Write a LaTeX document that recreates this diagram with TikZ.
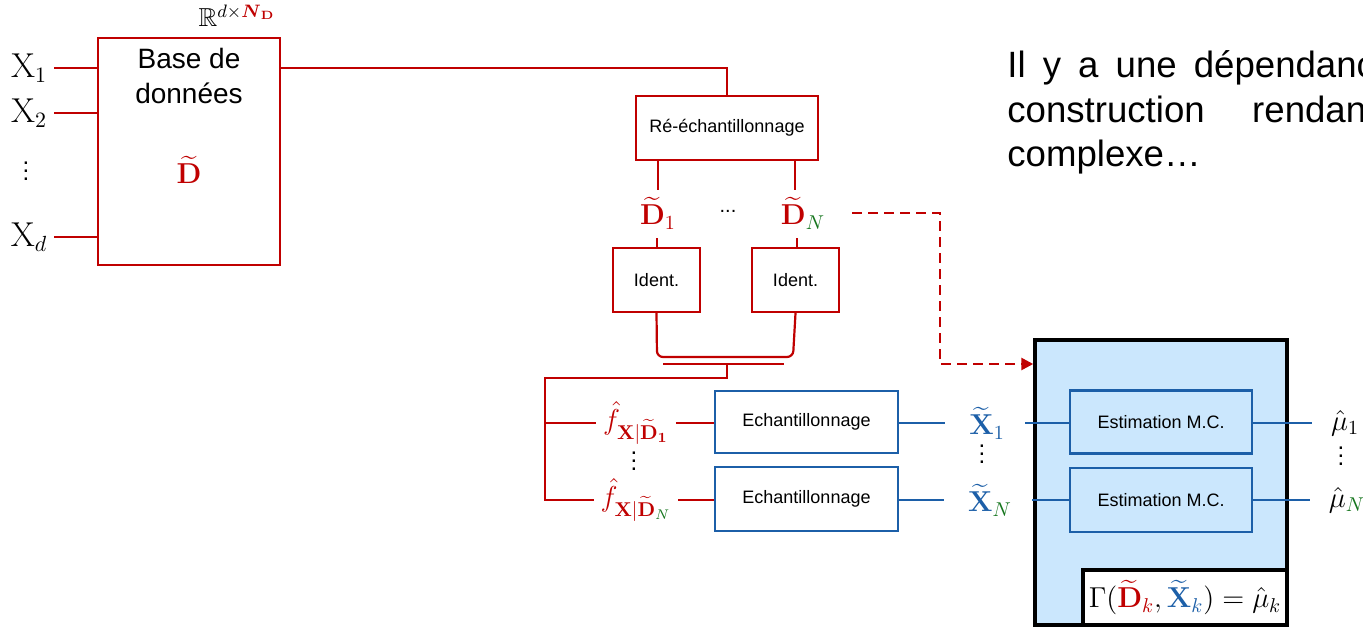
\documentclass[tikz,border=0pt]{standalone}
\usepackage{amsmath,amssymb}
\usepackage[no-math]{fontspec}
\setmainfont{Liberation Sans}
\usetikzlibrary{arrows.meta}
\definecolor{dred}{HTML}{C00000}
\definecolor{dblue}{HTML}{1C5FA8}
\definecolor{dgreen}{HTML}{16761E}
\definecolor{lblue}{HTML}{CBE7FD}

\begin{document}
\begin{tikzpicture}[x=0.5pt,y=-0.5pt,
  redbox/.style={draw=dred, line width=1.1pt, fill=white, inner sep=0pt},
  bluebox/.style={draw=dblue, line width=1.1pt, inner sep=0pt},
  redline/.style={draw=dred, line width=1.1pt},
  blueline/.style={draw=dblue, line width=1.1pt},
  small/.style={font=\fontsize{9}{11}\selectfont},
  mlab/.style={font=\fontsize{14}{17}\selectfont},
  inlab/.style={font=\fontsize{16}{19}\selectfont},
  vdot/.style={anchor=base, inner sep=0pt, font=\fontsize{12}{14}\selectfont},
  bigtext/.style={anchor=base west, inner sep=0pt, font=\fontsize{18.3}{22}\selectfont}]

\fill[white] (0,0) rectangle (1363,627);
\useasboundingbox (0,0) rectangle (1363,627);
\clip (0,0) rectangle (1363,627);

% ---- database block and its inputs
\node[redbox, minimum width=91pt, minimum height=113.5pt] (base) at (189,151.5) {};
\node[font=\fontsize{14}{17.5}\selectfont, align=center] (basetxt) at (189,76) {Base de\\données};
\node[mlab, text=dred] (dtil) at (189,170) {$\widetilde{\mathbf{D}}$};
\node[font=\fontsize{13}{15}\selectfont] (rdim) at (237,16) {$\mathbb{R}^{d\times {\color{dred}\boldsymbol{N}_{\mathbf{D}}}}$};

\node[inlab] (x1) at (29,68) {$\mathrm{X}_1$};
\node[inlab] (x2) at (29,113) {$\mathrm{X}_2$};
\node[vdot] (xdots) at (26,180) {$\vdots$};
\node[inlab] (xd) at (29,237) {$\mathrm{X}_d$};
\foreach \n in {x1,x2,xd}
  \draw[redline] (\n.east) -- (\n.east -| base.west);

% ---- resampling
\node[redbox, minimum width=91pt, minimum height=32pt, small] (resamp) at (727,128) {Ré-échantillonnage};
\draw[redline] (base.east |- x1) -- (resamp.north |- x1) -- (resamp.north);

\node[mlab, text=dred] (d1) at (658,213) {$\widetilde{\mathbf{D}}_1$};
\node[mlab, text=dred] (dN) at (803,213) {$\widetilde{\mathbf{D}}_{\color{dgreen}N}$};
\node[anchor=base, font=\fontsize{10}{12}\selectfont] (ddots) at (728,212) {...};

\node[redbox, minimum width=43.5pt, minimum height=32pt, small] (id1) at (656.5,280) {Ident.};
\node[redbox, minimum width=43.5pt, minimum height=32pt, small] (idN) at (795.5,280) {Ident.};

\coordinate (r1a) at (658,190);
\coordinate (rNa) at (795,190);
\coordinate (r1b) at (657,238);
\coordinate (rNb) at (797,238);
\draw[redline] (resamp.south -| r1a) -- (r1a);
\draw[redline] (resamp.south -| rNa) -- (rNa);
\draw[redline] (r1b) -- (r1b |- id1.north);
\draw[redline] (rNb) -- (rNb |- idN.north);

% merge of the identified models
\coordinate (uL) at (657,357);
\coordinate (uR) at (793,357);
\draw[redline, rounded corners=3pt] (id1.south) -- (uL) -- (uR) -- (idN.south);
\coordinate (barL) at (663,364);
\coordinate (barR) at (784,364);
\coordinate (barM) at (727,364);
\draw[redline] (barL) -- (barR);
\coordinate (busA) at (727,378);
\coordinate (busB) at (545,378);

% ---- conditional densities and sampling
\node[mlab, text=dred] (f1) at (636,423) {$\hat{f}_{\mathbf{X}|\widetilde{\mathbf{D}}_{\mathbf{1}}}$};
\node[mlab, text=dred] (fN) at (636,500) {$\hat{f}_{\mathbf{X}|\widetilde{\mathbf{D}}_{\color{dgreen}N}}$};
\node[vdot] (fdots) at (634,470) {$\vdots$};
\draw[redline] (barM) -- (busA) -- (busB) |- (fN.west);
\draw[redline] (busB |- f1) -- (f1.west);

\node[bluebox, minimum width=91.5pt, minimum height=31pt, small] (e1) at (806.5,422) {Echantillonnage};
\node[bluebox, minimum width=91.5pt, minimum height=32pt, small] (e2) at (806.5,499) {Echantillonnage};
\draw[redline] (f1.east) -- (f1.east -| e1.west);
\draw[redline] (fN.east |- 0,500) -- (e2.west |- 0,500);

\node[mlab, text=dblue, inner sep=0pt] (xt1) at (987,423) {$\widetilde{\mathbf{X}}_1$};
\node[mlab, text=dblue, inner sep=0pt] (xtN) at (990,500) {$\widetilde{\mathbf{X}}_{\color{dgreen}N}$};
\node[vdot] (xdots2) at (982,463) {$\vdots$};
\draw[blueline] (e1.east |- 0,423) -- ([xshift=-12pt]xt1.west |- 0,423);
\draw[blueline] (e2.east |- 0,500) -- ([xshift=-12pt]xtN.west |- 0,500);

% ---- Monte Carlo estimation block
\node[draw=black, line width=1.75pt, fill=lblue, minimum width=126pt, minimum height=142.5pt, inner sep=0pt] (big) at (1161,482.5) {};
\node[draw=black, line width=1.75pt, fill=white, minimum width=102pt, minimum height=27.5pt, inner sep=0pt, mlab] (gam) at (1185,597.5)
  {$\Gamma({\color{dred}\widetilde{\mathbf{D}}_k},{\color{dblue}\widetilde{\mathbf{X}}_k})=\hat{\mu}_k$};

\node[bluebox, fill=lblue, minimum width=91pt, minimum height=31.5pt, small] (est1) at (1161,422) {Estimation M.C.};
\node[bluebox, fill=lblue, minimum width=91pt, minimum height=32pt, small] (est2) at (1161,500) {Estimation M.C.};
\draw[blueline] ([xshift=10pt]xt1.east |- 0,423) -- (est1.west |- 0,423);
\draw[blueline] ([xshift=10pt]xtN.east |- 0,500) -- (est2.west |- 0,500);

\node[mlab] (mu1) at (1345,423) {$\hat{\mu}_1$};
\node[mlab] (muN) at (1347,500) {$\hat{\mu}_{\color{dgreen}N}$};
\node[vdot] (mudots) at (1341,465) {$\vdots$};
\draw[blueline] (est1.east |- 0,423) -- ([xshift=-6pt]mu1.west |- 0,423);
\draw[blueline] (est2.east |- 0,500) -- ([xshift=-6pt]muN.west |- 0,500);

% ---- dependency of the estimation on the resampled data
\coordinate (dturn) at (940,364);
\draw[dred, line width=1.3pt, dash pattern=on 5pt off 3pt, -{Triangle[length=6pt,width=6pt]}]
  ([xshift=10pt]dN.east) -| (dturn) -- (dturn -| big.west);

% ---- side remark
\node[bigtext] (t1) at (1007,77) {\makebox[194pt][s]{Il y a une dépendance}};
\node[bigtext] (t2) at (1007,122) {\makebox[184.5pt][s]{construction rendant}};
\node[bigtext] (t3) at (1007,166) {complexe…};
\end{tikzpicture}
\end{document}
